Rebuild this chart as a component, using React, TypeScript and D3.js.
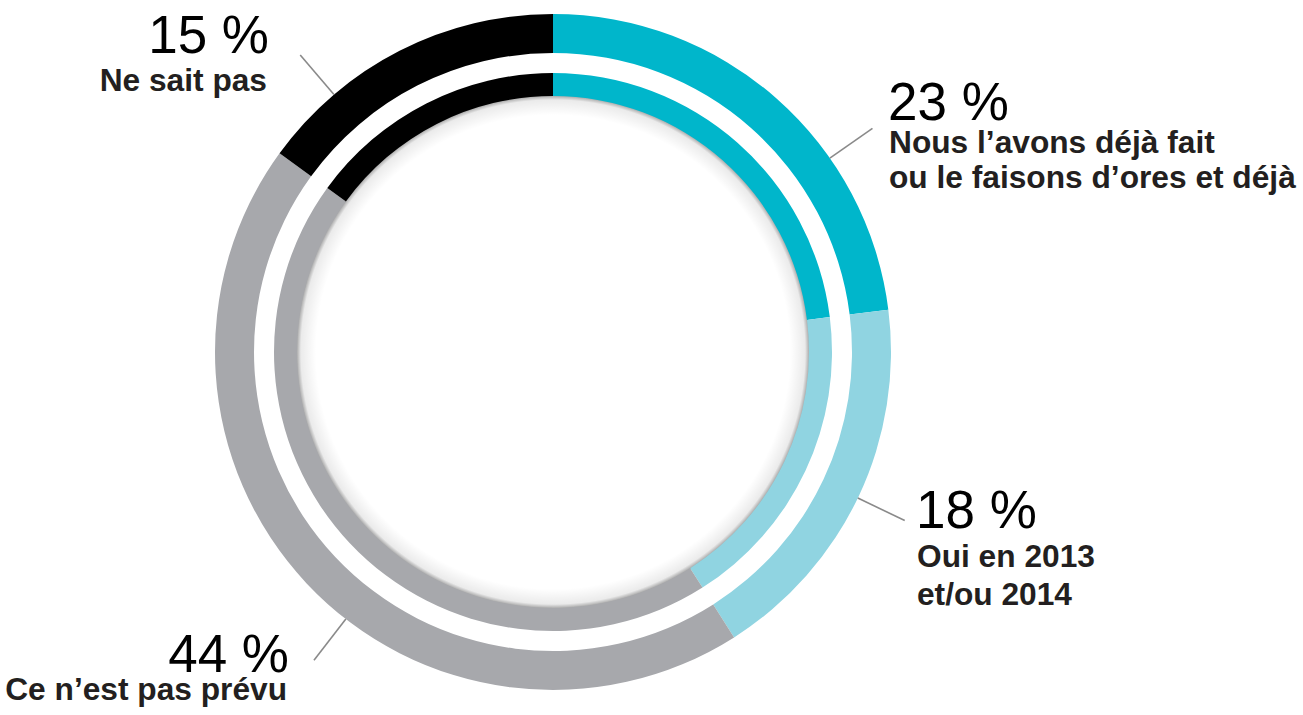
import React from "react";
import * as d3 from "d3";

// ---- data ----
const categories = [
  "Nous l’avons déjà fait|ou le faisons d’ores et déjà",
  "Oui en 2013|et/ou 2014",
  "Ce n’est pas prévu",
  "Ne sait pas",
];
const outerValues = [23, 18, 44, 15];
const innerValues = [23, 18, 44, 15];
const percentLabels = ["23 %", "18 %", "44 %", "15 %"];
const sliceColors = ["#00b6cb", "#90d4e1", "#a7a8ac", "#000000"];

// ---- layout ----
const W = 1303;
const H = 715;
const CX = 553;
const CY = 352;
const OUTER = { inner: 299, outer: 338 };
const INNER = { inner: 256, outer: 279 };
// leader line angles (degrees clockwise from 12 o'clock) per slice
const leaderAngles = [55, 115.6, 217.8, 319.6];
const leaderR = [338, 390];
// label blocks: anchor, x, percent baseline, text baselines
const labelLayout = [
  { anchor: "start", x: 888, pctY: 120, lines: [153, 188] },
  { anchor: "start", x: 916, pctY: 528, lines: [567, 605] },
  { anchor: "end", x: 289, pctY: 672, lines: [700] },
  { anchor: "end", x: 269, pctY: 53, lines: [91] },
];

export default function App() {
  const pie = d3
    .pie<number>()
    .sort(null)
    .value((d) => d)
    .startAngle(0)
    .endAngle(2 * Math.PI);

  const outerArcs = pie(outerValues);
  const innerArcs = pie(innerValues);
  const outerArc = d3
    .arc<d3.PieArcDatum<number>>()
    .innerRadius(OUTER.inner)
    .outerRadius(OUTER.outer);
  const innerArc = d3
    .arc<d3.PieArcDatum<number>>()
    .innerRadius(INNER.inner)
    .outerRadius(INNER.outer);

  const rad = d3.scaleLinear().domain([0, 360]).range([0, 2 * Math.PI]);
  const pt = (deg: number, r: number) => {
    const a = rad(deg);
    return [Math.sin(a) * r, -Math.cos(a) * r];
  };

  const shadowStart = (INNER.inner - 20) / INNER.inner;

  return (
    <svg
      width={W}
      height={H}
      viewBox={`0 0 ${W} ${H}`}
      style={{ position: "absolute", left: 0, top: 0, display: "block", background: "#fff" }}
    >
      <defs>
        <radialGradient id="innerShadow" cx="0.5" cy="0.5" r="0.5">
          <stop offset={0} stopColor="#000" stopOpacity={0} />
          <stop offset={shadowStart} stopColor="#000" stopOpacity={0} />
          <stop offset={(shadowStart + 1) / 2 + 0.02} stopColor="#000" stopOpacity={0.08} />
          <stop offset={1} stopColor="#000" stopOpacity={0.38} />
        </radialGradient>
      </defs>
      <g transform={`translate(${CX},${CY})`}>
        <circle r={INNER.inner + 1} fill="url(#innerShadow)" />
        {outerArcs.map((a, i) => (
          <path key={"o" + i} d={outerArc(a) || ""} fill={sliceColors[i]} />
        ))}
        {innerArcs.map((a, i) => (
          <path key={"i" + i} d={innerArc(a) || ""} fill={sliceColors[i]} />
        ))}
        {leaderAngles.map((deg, i) => {
          const [x1, y1] = pt(deg, leaderR[0]);
          const [x2, y2] = pt(deg, leaderR[1]);
          return (
            <line
              key={"l" + i}
              x1={x1}
              y1={y1}
              x2={x2}
              y2={y2}
              stroke="#8a8a8a"
              strokeWidth={1.6}
            />
          );
        })}
      </g>
      {labelLayout.map((L, i) => (
        <text
          key={"t" + i}
          fontFamily="'Liberation Sans', Arial, Helvetica, sans-serif"
          textAnchor={L.anchor as any}
        >
          <tspan x={L.x} y={L.pctY} fontSize={53} fill="#000">
            {percentLabels[i]}
          </tspan>
          {categories[i].split("|").map((line, j) => (
            <tspan
              key={j}
              x={L.anchor === "end" ? L.x - 2 : L.x + 1}
              y={L.lines[j]}
              fontSize={31.7}
              fontWeight="bold"
              fill="#231f20"
            >
              {line}
            </tspan>
          ))}
        </text>
      ))}
    </svg>
  );
}
